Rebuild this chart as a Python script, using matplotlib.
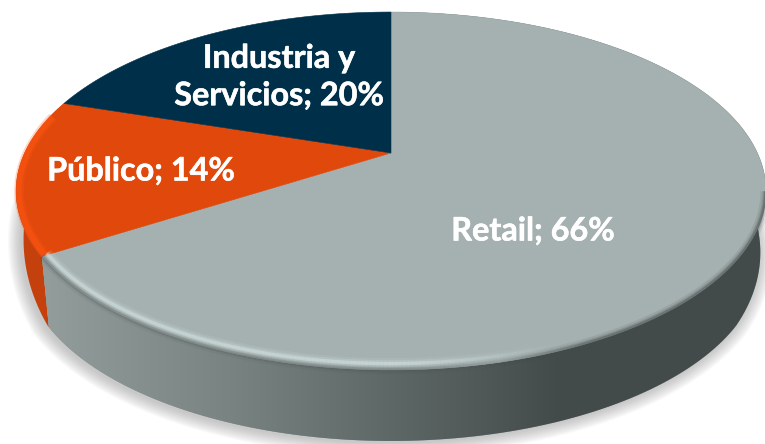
import numpy as np
import matplotlib
matplotlib.use("Agg")
import matplotlib.pyplot as plt
import matplotlib.patheffects as pe
from matplotlib.collections import LineCollection
from matplotlib.colors import to_rgb
from matplotlib.patches import Polygon, Rectangle

names = ["Retail", "Público", "Industria y\nServicios"]
shares = [66, 14, 20]
face_colors = ["#a5b1b0", "#e0480c", "#003049"]
side_colors = ["#8f9a99", "#c4400c", "#002030"]

# perspective of the pie disc, in pixels
CX, CY = 391, 153
PERSP = 0.2123
AX, BY = 366.4, 170.9
DEPTH = 71


def project(theta, inset=0.0):
    x, y = np.cos(theta), np.sin(theta)
    w = 1 + PERSP * y
    return CX + (AX - inset) * x / w, CY - (BY - inset) * y / w


def arc(start, stop, n=200, inset=0.0):
    return np.column_stack(project(np.linspace(start, stop, n), inset))


def dropped(points):
    # bottom rim of the disc, narrower and shallower towards the back
    out = points.copy()
    left = out[:, 0] < CX
    back = np.clip(255 - out[:, 1], 0, None)
    out[:, 0] = CX + (out[:, 0] - CX) * np.where(left, 0.98, 0.985)
    out[:, 1] = out[:, 1] + DEPTH - np.where(left, 0.35, 0.15) * back
    return out


def edge_lines(ax, points, rgba, width):
    segs = np.stack([points[:-1], points[1:]], axis=1)
    ax.add_collection(LineCollection(segs, colors=rgba, linewidths=width, capstyle="butt", zorder=4))


fig = plt.figure(figsize=(7.65, 4.44), dpi=100)
ax = fig.add_axes([0, 0, 1, 1])
ax.set_xlim(0, 765)
ax.set_ylim(444, 0)
ax.axis("off")

fractions = np.array(shares) / sum(shares)
edges = np.pi / 2 - 2 * np.pi * np.concatenate([[0], np.cumsum(fractions)])

# soft shadow under the disc, only below the back of the rim
full = arc(0, 2 * np.pi, 400)
low = dropped(full)
shadow_clip = Rectangle((0, 180), 765, 264, transform=ax.transData)
for grow in np.linspace(14, 1, 14):
    pts = low.copy()
    pts[:, 0] = CX + (pts[:, 0] - CX) * (1 + grow / 375) - 2
    pts[:, 1] = CY + 70 + (pts[:, 1] - CY - 70) * (1 + grow / 220) + 1
    blur = Polygon(pts, closed=True, fc="#808080", ec="none", alpha=0.035, zorder=1)
    ax.add_patch(blur)
    blur.set_clip_path(shadow_clip)

# side wall of each slice
wall_x = [0, 50, 230, 400, 480, 560, 765]
wall_rgb = np.array([to_rgb(c) for c in ["#959f9e", "#919c9b", "#788382", "#5c6665", "#505958", "#434a4a", "#434a4a"]])
ramp = np.column_stack([np.interp(np.arange(765), wall_x, wall_rgb[:, i]) for i in range(3)])[None, :, :]

for i in [1, 0]:
    rim = arc(edges[i + 1], edges[i], 200)
    wall = Polygon(np.vstack([rim, dropped(rim)[::-1]]), closed=True, fc=side_colors[i], ec="none", zorder=2)
    ax.add_patch(wall)
    if i == 0:
        img = ax.imshow(ramp, extent=(0, 765, 444, 0), aspect="auto", zorder=2.1)
        img.set_clip_path(wall)
ax.set_xlim(0, 765)
ax.set_ylim(444, 0)

# top faces
for i in range(3):
    rim = arc(edges[i], edges[i + 1], 200)
    ax.add_patch(Polygon(np.vstack([[CX, CY], rim]), closed=True, fc=face_colors[i], ec=face_colors[i], lw=0.4, zorder=3))

# bevel on the front rim: pale on the left, dark on the right
retail = arc(edges[1], edges[0], 500, inset=5)
mid_x = (retail[:-1, 0] + retail[1:, 0]) / 2
mid_y = (retail[:-1, 1] + retail[1:, 1]) / 2
glow = np.clip((560 - mid_x) / 160, 0, 1) * (mid_y > 200)
shade = np.clip((mid_x - 470) / 120, 0, 1) * (mid_y > 190)

dark = arc(edges[1], edges[0], 500, inset=0.5)
for width, alpha in [(7, 0.12), (4, 0.22), (2, 0.4)]:
    rgba = np.zeros((len(mid_x), 4))
    rgba[:, :3] = to_rgb("#434a4a")
    rgba[:, 3] = np.maximum(shade, glow * 0.6) * alpha
    edge_lines(ax, dark, rgba, width)

for width, alpha in [(8, 0.10), (5, 0.18), (2.5, 0.40)]:
    rgba = np.zeros((len(mid_x), 4))
    rgba[:, :3] = to_rgb("#dff0ee")
    rgba[:, 3] = glow * alpha
    edge_lines(ax, retail, rgba, width)

orange = arc(edges[2], edges[1], 200, inset=3)
for width, alpha in [(7, 0.25), (4, 0.5)]:
    ax.plot(orange[20:, 0], orange[20:, 1], color="#ff5412", lw=width, alpha=alpha, zorder=3.5, solid_capstyle="butt")

# labels
font = dict(family="Lato", weight="bold", color="white", fontsize=23.3, ha="center", va="center", zorder=6, linespacing=1.35)
label_spots = [(533, 231), (141, 171), (279, 77)]
for name, share, (lx, ly) in zip(names, shares, label_spots):
    t = ax.text(lx, ly, f"{name}; {share}%", **font)
    t.set_path_effects([pe.withStroke(linewidth=0.4, foreground="white")])

fig.savefig("out.png", dpi=100)
